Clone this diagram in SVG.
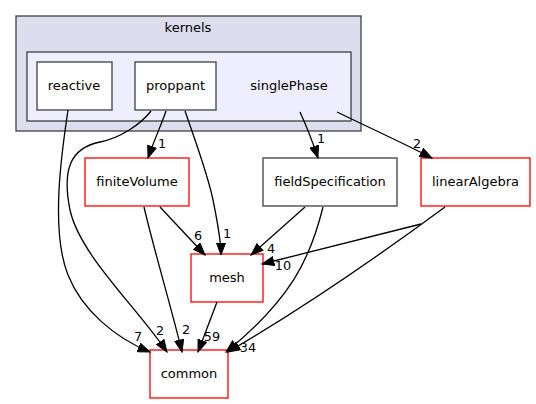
<svg xmlns="http://www.w3.org/2000/svg" width="536" height="404" viewBox="0 0 536 404">
<style>
text{font-family:"DejaVu Sans","Liberation Sans",sans-serif;font-size:13px;fill:#000}
.n text,.c text{text-anchor:middle}
.blk{fill:#fff;stroke:#404040;stroke-width:1.3}
.red{fill:#fff;stroke:#ff0000;stroke-width:1.3}
.e{fill:none;stroke:#000;stroke-width:1.3}
.l{text-anchor:middle;font-size:12.8px}
</style>
<defs>
<marker id="ah" markerWidth="14" markerHeight="10" refX="12.5" refY="5" orient="auto" markerUnits="userSpaceOnUse">
<path d="M0.5,0.5 L12.5,5 L0.5,9.5 Z" fill="#000" stroke="#000"/>
</marker>
</defs>
<g id="clust_kernels" class="c">
<rect x="16" y="16" width="345" height="115" fill="#ddddee" stroke="#404040" stroke-width="1.3"/>
<text x="188" y="32">kernels</text>
</g>
<g id="clust_singlePhase" class="c">
<rect x="27" y="52" width="324" height="69" fill="#eeeeff" stroke="#404040" stroke-width="1.3"/>
<text x="289" y="90">singlePhase</text>
</g>
<g id="node_reactive" class="n">
<rect class="blk" x="37" y="62" width="75" height="48"/>
<text x="74" y="90">reactive</text>
</g>
<g id="node_proppant" class="n">
<rect class="blk" x="135" y="62" width="81" height="48"/>
<text x="175.5" y="90">proppant</text>
</g>
<g id="node_finiteVolume" class="n">
<rect class="red" x="85" y="158" width="104" height="48"/>
<text x="137" y="186">finiteVolume</text>
</g>
<g id="node_fieldSpecification" class="n">
<rect class="blk" x="263" y="158" width="134" height="48"/>
<text x="330" y="186">fieldSpecification</text>
</g>
<g id="node_linearAlgebra" class="n">
<rect class="red" x="421" y="158" width="109" height="48"/>
<text x="475.5" y="186">linearAlgebra</text>
</g>
<g id="node_mesh" class="n">
<rect class="red" x="191" y="254" width="72" height="48"/>
<text x="227" y="282">mesh</text>
</g>
<g id="node_common" class="n">
<rect class="red" x="150" y="350" width="78" height="48"/>
<text x="189" y="378">common</text>
</g>
<g id="edges">
<path class="e" marker-end="url(#ah)" d="M68,110 C62,150 50,230 68,275 C82,310 115,338 150,352"/>
<text class="l" x="138" y="341">7</text>
<path class="e" marker-end="url(#ah)" d="M151,111 C140,125 120,138 100,142 C70,148 62,170 70,210 C80,255 135,305 167,352"/>
<text class="l" x="160" y="335">2</text>
<path class="e" marker-end="url(#ah)" d="M166,111 C162,123 155,138 148,158"/>
<text class="l" x="162" y="148">1</text>
<path class="e" marker-end="url(#ah)" d="M185,111 C195,140 210,180 214,205 C218,225 221,240 221,255"/>
<text class="l" x="227" y="238">1</text>
<path class="e" marker-end="url(#ah)" d="M160,207 L205,255"/>
<text class="l" x="198" y="240">6</text>
<path class="e" marker-end="url(#ah)" d="M144,207 C154,250 172,310 182,352"/>
<text class="l" x="186" y="334">2</text>
<path class="e" marker-end="url(#ah)" d="M300,112 C306,125 312,140 318,158"/>
<text class="l" x="321" y="143">1</text>
<path class="e" marker-end="url(#ah)" d="M337,112 C370,128 405,144 432,158"/>
<text class="l" x="417" y="148">2</text>
<path class="e" marker-end="url(#ah)" d="M305,207 L251,255"/>
<text class="l" x="271" y="253">4</text>
<path class="e" marker-end="url(#ah)" d="M323,207 C310,260 290,300 226,352"/>
<path class="e" marker-end="url(#ah)" d="M421,224 L262,264"/>
<text class="l" x="283" y="270">10</text>
<path class="e" marker-end="url(#ah)" d="M445,207 C380,255 300,310 228,352"/>
<text class="l" x="248" y="352">34</text>
<path class="e" marker-end="url(#ah)" d="M217,302 L198,352"/>
<text class="l" x="212" y="341">59</text>
</g>
</svg>
